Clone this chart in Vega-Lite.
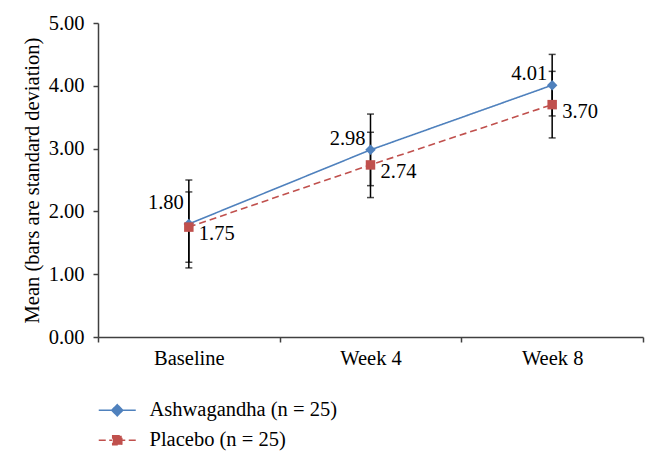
{
  "$schema": "https://vega.github.io/schema/vega-lite/v6.json",
  "width": 545,
  "height": 314,
  "autosize": {"type": "none"},
  "padding": {"left": 98, "top": 23, "right": 15, "bottom": 125},
  "background": "white",
  "config": {
    "view": {"stroke": null},
    "font": "Liberation Serif",
    "axis": {"labelFont": "Liberation Serif", "titleFont": "Liberation Serif", "labelColor": "black", "titleColor": "black", "labelFontSize": 20.5, "titleFontSize": 20.5, "titleFontWeight": "normal", "domainColor": "#404040", "tickColor": "#404040", "domainWidth": 1.5, "tickWidth": 1.5, "tickSize": 5, "grid": false},
    "legend": {"labelFont": "Liberation Serif", "labelFontSize": 20.5, "labelColor": "black", "labelLimit": 400}
  },
  "data": {"values": [
    {"visit": "Baseline", "group": "Ashwagandha (n = 25)", "mean": 1.80, "lo": 1.10, "hi": 2.50},
    {"visit": "Week 4", "group": "Ashwagandha (n = 25)", "mean": 2.98, "lo": 2.41, "hi": 3.55},
    {"visit": "Week 8", "group": "Ashwagandha (n = 25)", "mean": 4.01, "lo": 3.52, "hi": 4.50},
    {"visit": "Baseline", "group": "Placebo (n = 25)", "mean": 1.75, "lo": 1.19, "hi": 2.31},
    {"visit": "Week 4", "group": "Placebo (n = 25)", "mean": 2.74, "lo": 2.22, "hi": 3.26},
    {"visit": "Week 8", "group": "Placebo (n = 25)", "mean": 3.70, "lo": 3.17, "hi": 4.23}
  ]},
  "encoding": {
    "x": {"field": "visit", "type": "nominal", "bandPosition": 0.5, "sort": ["Baseline", "Week 4", "Week 8"],
      "scale": {"type": "band", "paddingInner": 0, "paddingOuter": 0},
      "axis": {"title": null, "labelAngle": 0, "tickBand": "extent", "labelPadding": 6}}
  },
  "layer": [
    {
      "mark": {"type": "rule", "color": "black", "strokeWidth": 1.5},
      "encoding": {
        "y": {"field": "lo", "type": "quantitative", "scale": {"domain": [0, 5]},
          "axis": {"title": "Mean (bars are standard deviation)", "values": [0, 1, 2, 3, 4, 5], "format": ".2f", "labelPadding": 9, "titlePadding": 6}},
        "y2": {"field": "hi"}
      }
    },
    {
      "mark": {"type": "tick", "color": "black", "thickness": 1.5, "size": 7, "orient": "horizontal"},
      "encoding": {"y": {"field": "lo", "type": "quantitative"}}
    },
    {
      "mark": {"type": "tick", "color": "black", "thickness": 1.5, "size": 7, "orient": "horizontal"},
      "encoding": {"y": {"field": "hi", "type": "quantitative"}}
    },
    {
      "mark": {"type": "line", "strokeWidth": 1.6},
      "encoding": {
        "y": {"field": "mean", "type": "quantitative"},
        "color": {"field": "group", "type": "nominal", "scale": {"domain": ["Ashwagandha (n = 25)", "Placebo (n = 25)"], "range": ["#4F81BD", "#C0504D"]},
          "legend": {
            "title": null, "orient": "none", "legendX": 9, "legendY": 377, "direction": "vertical",
            "padding": 0, "symbolSize": 100, "labelOffset": 22, "rowPadding": 9,
            "encode": {"symbols": {"update": {
              "shape": {"signal": "datum.value === 'Ashwagandha (n = 25)' ? 'M-3.7,0H3.7M0,-1.1L1.1,0L0,1.1L-1.1,0Z' : 'M-3.7,0H-2.3M-1.6,0H-1M1,0H1.6M2.3,0H3.7M-0.9,-0.9H0.9V0.9H-0.9Z'"},
              "fill": {"signal": "scale('color', datum.value)"},
              "stroke": {"signal": "scale('color', datum.value)"},
              "strokeWidth": {"value": 1.6},
              "strokeDash": {"value": [1, 0]},
              "opacity": {"value": 1},
              "fillOpacity": {"value": 1},
              "strokeOpacity": {"value": 1}
            }}}
          }},
        "strokeDash": {"field": "group", "type": "nominal", "scale": {"domain": ["Ashwagandha (n = 25)", "Placebo (n = 25)"], "range": [[1, 0], [7, 4]]}, "legend": null}
      }
    },
    {
      "transform": [{"filter": "datum.group === 'Ashwagandha (n = 25)'"}],
      "mark": {"type": "point", "filled": true, "opacity": 1, "shape": "diamond", "size": 110, "color": "#4F81BD"},
      "encoding": {"y": {"field": "mean", "type": "quantitative"}}
    },
    {
      "transform": [{"filter": "datum.group === 'Placebo (n = 25)'"}],
      "mark": {"type": "point", "filled": true, "opacity": 1, "shape": "square", "size": 90, "color": "#C0504D"},
      "encoding": {"y": {"field": "mean", "type": "quantitative"}}
    },
    {
      "transform": [{"filter": "datum.group === 'Ashwagandha (n = 25)' && datum.visit === 'Baseline'"}],
      "mark": {"type": "text", "align": "right", "baseline": "middle", "dx": -5, "dy": -21, "fontSize": 20.5, "font": "Liberation Serif", "color": "black"},
      "encoding": {"y": {"field": "mean", "type": "quantitative"}, "text": {"field": "mean", "type": "quantitative", "format": ".2f"}}
    },
    {
      "transform": [{"filter": "datum.group === 'Ashwagandha (n = 25)' && datum.visit !== 'Baseline'"}],
      "mark": {"type": "text", "align": "right", "baseline": "middle", "dx": -5, "dy": -11, "fontSize": 20.5, "font": "Liberation Serif", "color": "black"},
      "encoding": {"y": {"field": "mean", "type": "quantitative"}, "text": {"field": "mean", "type": "quantitative", "format": ".2f"}}
    },
    {
      "transform": [{"filter": "datum.group === 'Placebo (n = 25)'"}],
      "mark": {"type": "text", "align": "left", "baseline": "middle", "dx": 10, "dy": 7, "fontSize": 20.5, "font": "Liberation Serif", "color": "black"},
      "encoding": {"y": {"field": "mean", "type": "quantitative"}, "text": {"field": "mean", "type": "quantitative", "format": ".2f"}}
    }
  ]
}
